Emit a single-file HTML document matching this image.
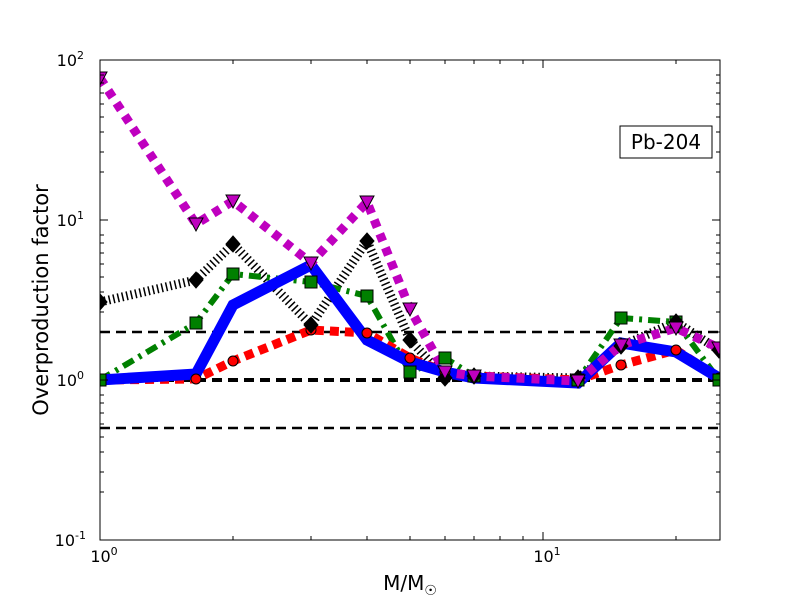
<!DOCTYPE html>
<html><head><meta charset="utf-8"><style>body{margin:0;background:#fff}svg{display:block}</style></head><body>
<svg width="800" height="600" viewBox="0 0 800 600" xmlns="http://www.w3.org/2000/svg" font-family="DejaVu Sans, sans-serif">
<rect width="800" height="600" fill="#fff"/>
<defs><clipPath id="c"><rect x="100" y="60" width="620" height="480"/></clipPath></defs>
<g stroke="#000" stroke-dasharray="10,6">
<line x1="100" y1="332" x2="720" y2="332" stroke-width="2.5"/>
<line x1="100" y1="380" x2="720" y2="380" stroke-width="4"/>
<line x1="100" y1="428" x2="720" y2="428" stroke-width="2.5"/>
</g>
<g clip-path="url(#c)" fill="none" stroke-linejoin="miter">
<polyline stroke="#000" stroke-width="9" stroke-dasharray="1.5,3" points="100,302 196,280 233,244 311,325 367,241 410,340 445,378 474,376 578,378 621,346 676,322 719,350"/>
<polyline stroke="#008000" stroke-width="6" stroke-dasharray="12,6,3,6" points="100,380 196,323 233,274 311,282 367,296 410,372 445,358 474,376 578,380 621,318 676,322 719,380"/>
<polyline stroke="#f00" stroke-width="9" stroke-dasharray="9,6" points="100,380 196,379 233,361 311,330 367,333 410,358 445,372 474,376 578,380 621,365 676,350 719,378"/>
<polyline stroke="#00f" stroke-width="11" points="100,380 196,374 233,305 311,265 367,340 410,362 445,372 474,378 578,383 621,343 676,352 719,378"/>
<polyline stroke="#bf00bf" stroke-width="9" stroke-dasharray="8,7" points="100,78 196,224 233,201 311,263 367,202 410,309 445,372 474,376 578,381 621,345 676,328 719,348"/>
</g>
<g stroke="#000" stroke-width="1" clip-path="url(#c)">
<g fill="#f00"><circle cx="100" cy="380" r="5"/><circle cx="196" cy="379" r="5"/><circle cx="233" cy="361" r="5"/><circle cx="311" cy="330" r="5"/><circle cx="367" cy="333" r="5"/><circle cx="410" cy="358" r="5"/><circle cx="445" cy="372" r="5"/><circle cx="474" cy="376" r="5"/><circle cx="578" cy="380" r="5"/><circle cx="621" cy="365" r="5"/><circle cx="676" cy="350" r="5"/><circle cx="719" cy="378" r="5"/></g>
<g fill="#008000"><rect x="94" y="374" width="12" height="12"/><rect x="190" y="317" width="12" height="12"/><rect x="227" y="268" width="12" height="12"/><rect x="305" y="276" width="12" height="12"/><rect x="361" y="290" width="12" height="12"/><rect x="404" y="366" width="12" height="12"/><rect x="439" y="352" width="12" height="12"/><rect x="468" y="370" width="12" height="12"/><rect x="572" y="374" width="12" height="12"/><rect x="615" y="312" width="12" height="12"/><rect x="670" y="316" width="12" height="12"/><rect x="713" y="374" width="12" height="12"/></g>
<g fill="#000"><path d="M100,294l7,8l-7,8l-7,-8z"/><path d="M196,272l7,8l-7,8l-7,-8z"/><path d="M233,236l7,8l-7,8l-7,-8z"/><path d="M311,317l7,8l-7,8l-7,-8z"/><path d="M367,233l7,8l-7,8l-7,-8z"/><path d="M410,332l7,8l-7,8l-7,-8z"/><path d="M445,370l7,8l-7,8l-7,-8z"/><path d="M474,368l7,8l-7,8l-7,-8z"/><path d="M578,370l7,8l-7,8l-7,-8z"/><path d="M621,338l7,8l-7,8l-7,-8z"/><path d="M676,314l7,8l-7,8l-7,-8z"/><path d="M719,342l7,8l-7,8l-7,-8z"/></g>
<g fill="#bf00bf"><path d="M93,72h14l-7,13z"/><path d="M189,218h14l-7,13z"/><path d="M226,195h14l-7,13z"/><path d="M304,257h14l-7,13z"/><path d="M360,196h14l-7,13z"/><path d="M403,303h14l-7,13z"/><path d="M438,366h14l-7,13z"/><path d="M467,370h14l-7,13z"/><path d="M571,375h14l-7,13z"/><path d="M614,339h14l-7,13z"/><path d="M669,322h14l-7,13z"/><path d="M712,342h14l-7,13z"/></g>
</g>
<rect x="100" y="60" width="620" height="480" fill="none" stroke="#000" stroke-width="1"/>
<g stroke="#000" stroke-width="1">
<path d="M100,60h8M100,220h8M100,380h8M100,540h8M720,60h-8M720,220h-8M720,380h-8M720,540h-8M543,540v-8M543,60v8"/>
<path d="M100,492h4M100,472h4M100,452h4M100,437h4M100,424h4M100,413h4M100,403h4M100,395h4M100,332h4M100,312h4M100,292h4M100,277h4M100,264h4M100,253h4M100,243h4M100,235h4M100,172h4M100,152h4M100,132h4M100,117h4M100,104h4M100,93h4M100,83h4M100,75h4
M720,492h-4M720,472h-4M720,452h-4M720,437h-4M720,424h-4M720,413h-4M720,403h-4M720,395h-4M720,332h-4M720,312h-4M720,292h-4M720,277h-4M720,264h-4M720,253h-4M720,243h-4M720,235h-4M720,172h-4M720,152h-4M720,132h-4M720,117h-4M720,104h-4M720,93h-4M720,83h-4M720,75h-4
M233,540v-4M311,540v-4M367,540v-4M410,540v-4M445,540v-4M474,540v-4M500,540v-4M523,540v-4M676,540v-4
M233,60v4M311,60v4M367,60v4M410,60v4M445,60v4M474,60v4M500,60v4M523,60v4M676,60v4"/>
</g>
<g font-size="16" fill="#000" text-anchor="end">
<text x="84" y="66">10<tspan font-size="11" dy="-7">2</tspan></text>
<text x="84" y="226">10<tspan font-size="11" dy="-7">1</tspan></text>
<text x="84" y="386">10<tspan font-size="11" dy="-7">0</tspan></text>
<text x="86" y="546">10<tspan font-size="11" dy="-7">-1</tspan></text>
</g>
<g font-size="16" fill="#000" text-anchor="middle">
<text x="104" y="562">10<tspan font-size="11" dy="-7">0</tspan></text>
<text x="547" y="562">10<tspan font-size="11" dy="-7">1</tspan></text>
</g>
<text x="410" y="590" font-size="20" text-anchor="middle">M/M<tspan font-size="14" dy="5">☉</tspan></text>
<text transform="translate(48,300) rotate(-90)" font-size="21" text-anchor="middle">Overproduction factor</text>
<rect x="620" y="126" width="92" height="32" fill="#fff" stroke="#000" stroke-width="1"/>
<text x="666" y="149" font-size="20" text-anchor="middle">Pb-204</text>
</svg>
</body></html>
